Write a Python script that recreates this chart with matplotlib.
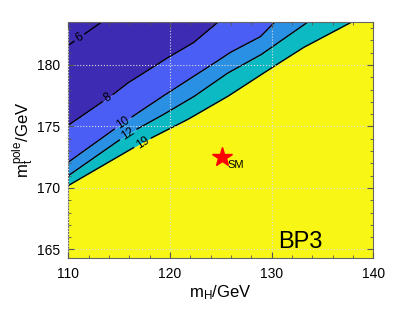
"""Contour regions in the (m_H, m_t^pole) plane for benchmark point BP3."""

import matplotlib
matplotlib.use('Agg')
import matplotlib.pyplot as plt
import numpy as np

plt.rcParams['font.family'] = ['Liberation Sans', 'DejaVu Sans']
plt.rcParams['mathtext.default'] = 'regular'

# contour lines: (m_H, m_t) points
line6_mh = [110.0, 113.3, 115.0]
line6_mt = [181.6, 183.5, 184.5]
line8_mh = [110.0, 114.4, 115.8, 119.6, 122.3, 124.6, 126.0]
line8_mt = [175.1, 177.6, 178.5, 180.5, 181.8, 183.4, 184.3]
line10_mh = [110.0, 115.4, 119.0, 123.9, 125.9, 128.9, 130.2, 131.5]
line10_mt = [172.1, 175.3, 177.3, 179.9, 181.0, 182.3, 183.4, 184.2]
line12_mh = [110.0, 115.9, 119.0, 122.3, 125.6, 128.9, 133.4, 135.0]
line12_mt = [171.0, 174.4, 175.8, 177.4, 179.3, 180.8, 183.4, 184.3]
line19_mh = [110.0, 117.3, 121.6, 125.6, 129.5, 133.1, 137.7, 139.0]
line19_mt = [170.2, 173.7, 175.5, 177.4, 179.5, 181.4, 183.4, 184.0]

levels = ['6', '8', '10', '12', '19']
label_mh = [111.1, 113.9, 115.4, 115.9, 117.3]

sm_mh, sm_mt = 125.1, 172.5

x_ticks = [110, 120, 130, 140]
y_ticks = [165, 170, 175, 180]

region_colors = ['#3e2bb3', '#4a5ef6', '#2a90e4', '#0bbac2', '#f7f614']


def main():
    fig = plt.figure(figsize=(4.12, 3.09), dpi=100)
    ax = fig.add_axes([0.166, 0.164, 0.740, 0.766])

    xs = np.linspace(110, 140, 600)
    lines = [(line6_mh, line6_mt), (line8_mh, line8_mt), (line10_mh, line10_mt),
             (line12_mh, line12_mt), (line19_mh, line19_mt)]
    curves = [np.interp(xs, mh, mt) for mh, mt in lines]

    top = 190.0
    bottom = 160.0
    ax.fill_between(xs, curves[1], top, color=region_colors[0], lw=0)
    ax.fill_between(xs, curves[2], curves[1], color=region_colors[1], lw=0)
    ax.fill_between(xs, curves[3], curves[2], color=region_colors[2], lw=0)
    ax.fill_between(xs, curves[4], curves[3], color=region_colors[3], lw=0)
    ax.fill_between(xs, bottom, curves[4], color=region_colors[4], lw=0)

    # contour lines with a gap at each label
    for curve, lab, xl in zip(curves, levels, label_mh):
        gap = 0.5 if len(lab) == 1 else 0.85
        y = np.where(np.abs(xs - xl) < gap, np.nan, curve)
        ax.plot(xs, y, color='black', lw=1.0)
        yl = np.interp(xl, xs, curve)
        ax.text(xl, yl, lab, rotation=33, fontsize=8.5, ha='center', va='center',
                rotation_mode='anchor')

    ax.plot(sm_mh, sm_mt, marker='*', color='red', markersize=15, mec='red')
    ax.text(sm_mh + 0.55, sm_mt - 0.6, 'SM', fontsize=8, ha='left', va='center')
    ax.text(132.8, 165.6, 'BP3', fontsize=17, ha='center', va='center')

    ax.set_xlim(110, 140)
    ax.set_ylim(164.28, 183.52)
    ax.set_xticks(x_ticks)
    ax.set_yticks(y_ticks)
    ax.set_xticks(np.arange(110, 141, 2), minor=True)
    ax.set_yticks(np.arange(165, 184, 1), minor=True)
    ax.tick_params(which='both', direction='in', top=True, right=True,
                   color='#555555', labelsize=10)
    ax.tick_params(which='major', length=4, pad=6)
    ax.tick_params(which='minor', length=2.5)
    for sp in ax.spines.values():
        sp.set_color('#666666')
    ax.grid(True, which='major', color='#dddddd', ls=':', lw=0.8)
    ax.set_axisbelow(False)

    ax.set_xlabel('$m_H$/GeV', fontsize=12, labelpad=2)
    ax.set_ylabel('$m_t^{pole}$/GeV', fontsize=12, labelpad=1)

    fig.savefig('out.png', dpi=100)
    plt.close(fig)


if __name__ == '__main__':
    main()
